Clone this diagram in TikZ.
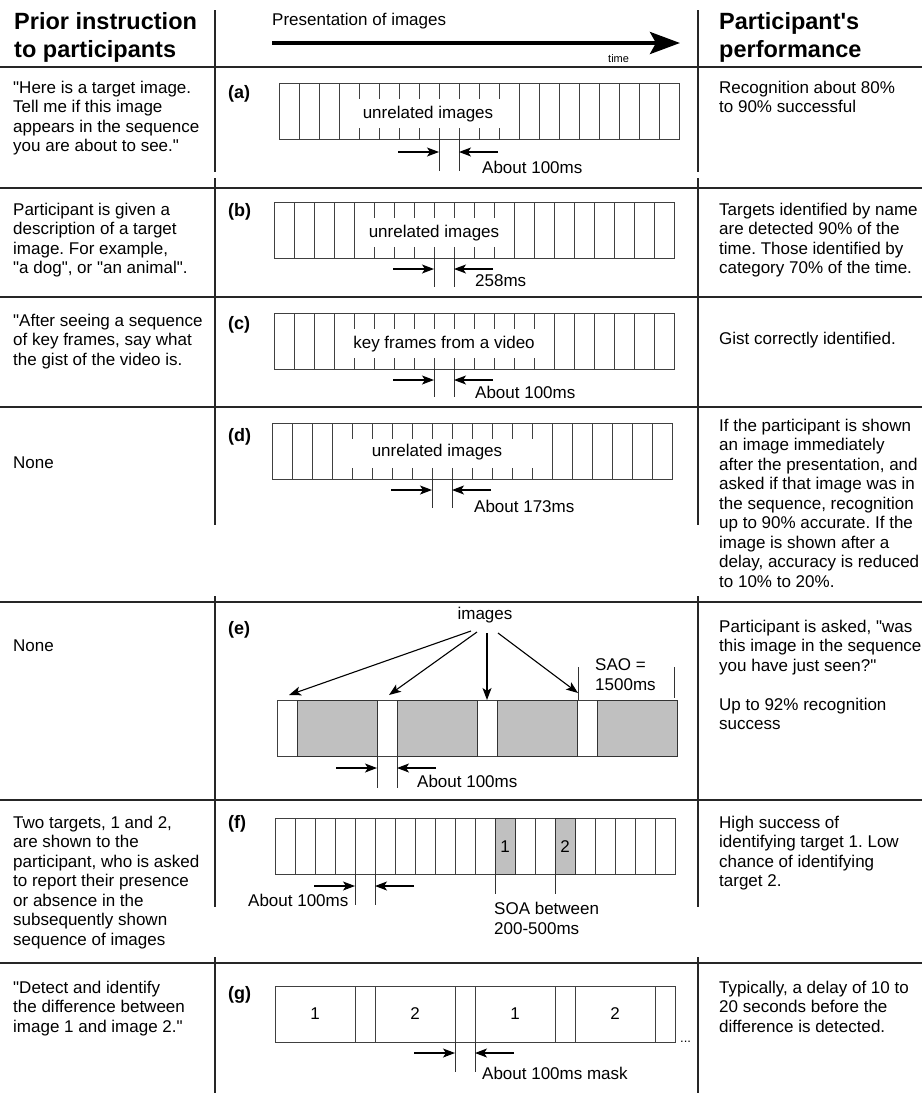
\documentclass[tikz,border=0pt]{standalone}
\usepackage{fontspec}
\setmainfont{Liberation Sans}
\newfontfamily\arial{Liberation Sans}
\usetikzlibrary{arrows.meta}
\definecolor{boxgrey}{HTML}{C0C0C0}
\frenchspacing
\newcommand{\bodyfont}{\arial\fontsize{17}{19.5}\selectfont}
\newcommand{\hdrfont}{\arial\fontsize{23.5}{28}\selectfont\bfseries}
\newcommand{\labfont}{\arial\fontsize{18}{20}\selectfont\bfseries}
\newcommand{\lines}[1]{\begin{tabular}[t]{@{}l@{}}#1\end{tabular}}
\newcommand{\rsvp}[5]{% x0, ytop, ybot, kfrom, kto
  \draw[cell] (#1,#2) rectangle (#1+400,#3);
  \foreach \k in {1,...,19}{%
    \ifnum\k<#4\relax
      \draw[cell] (#1+20*\k,#2) -- (#1+20*\k,#3);
    \else\ifnum\k>#5\relax
      \draw[cell] (#1+20*\k,#2) -- (#1+20*\k,#3);
    \else
      \draw[cell] (#1+20*\k,#2) -- (#1+20*\k,#2+16) (#1+20*\k,#3) -- (#1+20*\k,#3-11);
    \fi\fi
  }}
\newcommand{\timing}[6]{% name, xL, xR, ybot, yarr, yend
  \coordinate (#1L) at (#2,#5); \coordinate (#1R) at (#3,#5);
  \coordinate (#1Ls) at (#2-41,#5); \coordinate (#1Rs) at (#3+39,#5);
  \draw[tick] (#2,#4) -- (#2,#6) (#3,#4) -- (#3,#6);
  \draw[marr] (#1Ls) -- (#1L);
  \draw[marr] (#1Rs) -- (#1R);}
\begin{document}
\begin{tikzpicture}[x=1pt,y=-1pt,
  sep/.style={line width=1.8pt, draw=black!85},
  col/.style={line width=1.2pt, draw=black!85},
  cell/.style={line width=0.8pt, draw=black!75},
  tick/.style={line width=0.8pt, draw=black!80},
  greycell/.style={fill=boxgrey, draw=black!80, line width=1pt},
  marr/.style={line width=1.1pt, -{Stealth[length=12pt,width=9pt,inset=3pt]}},
  txt/.style={anchor=base west, inner sep=0pt, font=\bodyfont},
  ctxt/.style={anchor=base, inner sep=0pt, font=\bodyfont},
  lab/.style={anchor=base west, inner sep=0pt, font=\labfont},
  hdr/.style={anchor=base west, inner sep=0pt, font=\hdrfont}]
\useasboundingbox (0,0) rectangle (922,1095);
\fill[white] (0,0) rectangle (922,1095);

% grid lines
\foreach \y in {67,188,297,407,602,800,963} \draw[sep] (0,\y) -- (922,\y);
\foreach \x in {215,698}{
  \draw[col] (\x,10) -- (\x,172);
  \draw[col] (\x,178) -- (\x,525);
  \draw[col] (\x,596) -- (\x,907);
  \draw[col] (\x,957) -- (\x,1093);}

% header
\node[hdr] (h1) at (14,29) {\lines{Prior instruction\\to participants}};
\node[hdr] (h3) at (719,29) {\lines{Participant's\\performance}};
\node[txt] (pres) at (272,25) {Presentation of images};
\coordinate (ts) at (272,43); \coordinate (te) at (680,43);
\draw[line width=4pt, -{Stealth[length=30pt,width=22pt,inset=6pt]}] (ts) -- (te);
\node[anchor=base west, inner sep=0pt, font=\arial\fontsize{11}{12}\selectfont] (time) at (608,62) {time};

% row a
\node[txt] (la) at (13,93) {\lines{"Here is a target image.\\Tell me if this image\\appears in the sequence\\you are about to see."}};
\node[lab] (pa) at (228,98) {(a)};
\rsvp{279}{83}{139}{4}{11}
\node[ctxt] (ia) at (428,118) {unrelated images};
\timing{ma}{439}{459}{139}{152}{171}
\node[txt] (ta) at (482,173) {About 100ms};
\node[txt] (ra) at (719,93) {\lines{Recognition about 80\%\\to 90\% successful}};

% row b
\node[txt] (lb) at (13,215) {\lines{Participant is given a\\description of a target\\image. For example,\\"a dog", or "an animal".}};
\node[lab] (pb) at (228,216) {(b)};
\rsvp{274}{202}{258}{5}{11}
\node[ctxt] (ib) at (434,237) {unrelated images};
\timing{mb}{434}{454}{258}{269}{287}
\node[txt] (tb) at (475,286) {258ms};
\node[txt] (rb) at (719,215) {\lines{Targets identified by name\\are detected 90\% of the\\time. Those identified by\\category 70\% of the time.}};

% row c
\node[txt] (lc) at (13,326) {\lines{"After seeing a sequence\\of key frames, say what\\the gist of the video is.}};
\node[lab] (pc) at (228,329) {(c)};
\rsvp{274}{313}{369}{4}{13}
\node[ctxt] (ic) at (444,348) {key frames from a video};
\timing{mc}{434}{454}{369}{380}{397}
\node[txt] (tc) at (475,398) {About 100ms};
\node[txt] (rc) at (719,344) {Gist correctly identified.};

% row d
\node[txt] (ld) at (13,468) {None};
\node[lab] (pd) at (228,441) {(d)};
\rsvp{272}{423}{479}{4}{13}
\node[ctxt] (id) at (437,456) {unrelated images};
\timing{md}{432}{452}{479}{490}{508}
\node[txt] (td) at (474,512) {About 173ms};
\node[txt] (rd) at (719,431) {\lines{If the participant is shown\\an image immediately\\after the presentation, and\\asked if that image was in\\the sequence, recognition\\up to 90\% accurate. If the\\image is shown after a\\delay, accuracy is reduced\\to 10\% to 20\%.}};

% row e
\node[txt] (le) at (13,651) {None};
\node[lab] (pe) at (228,634) {(e)};
\draw[cell] (277,700) rectangle (677,756);
\foreach \x in {297,397,497,597} \draw[greycell] (\x,700) rectangle (\x+80,756);
\node[ctxt] (img) at (485,619) {images};
\coordinate (s1) at (471,631); \coordinate (e1) at (289,695);
\coordinate (s2) at (477,632); \coordinate (e2) at (389,695);
\coordinate (s3) at (487,633); \coordinate (e3) at (487,700);
\coordinate (s4) at (498,633); \coordinate (e4) at (578,693);
\draw[marr] (s1) -- (e1);
\draw[marr] (s2) -- (e2);
\draw[marr] (s3) -- (e3);
\draw[marr] (s4) -- (e4);
\draw[tick] (578,667) -- (578,700) (674,667) -- (674,698);
\node[anchor=base west, inner sep=0pt, font=\arial\fontsize{17}{20}\selectfont] (sao) at (595,670) {\lines{SAO =\\1500ms}};
\timing{me}{377}{397}{756}{768}{788}
\node[txt] (te1) at (417,787) {About 100ms};
\node[txt] (re) at (719,632) {\lines{Participant is asked, "was\\this image in the sequence\\you have just seen?"\\ \\Up to 92\% recognition\\success}};

% row f
\node[txt] (lf) at (13,828) {\lines{Two targets, 1 and 2,\\are shown to the\\participant, who is asked\\to report their presence\\or absence in the\\subsequently shown\\sequence of images}};
\node[lab] (pf) at (228,828) {(f)};
\rsvp{275}{818}{874}{20}{0}
\draw[greycell] (495,818) rectangle (515,874);
\draw[greycell] (555,818) rectangle (575,874);
\node[ctxt] (f1) at (505,852) {1};
\node[ctxt] (f2) at (565,852) {2};
\draw[tick] (495,874) -- (495,894) (555,874) -- (555,894);
\timing{mf}{355}{375}{874}{886}{905}
\node[txt] (tf) at (248,906) {About 100ms};
\node[anchor=base west, inner sep=0pt, font=\arial\fontsize{17}{20}\selectfont] (soa) at (494,914) {\lines{SOA between\\200-500ms}};
\node[txt] (rf) at (719,828) {\lines{High success of\\identifying target 1. Low\\chance of identifying\\target 2.}};

% row g
\node[txt] (lg) at (13,993) {\lines{"Detect and identify\\the difference between\\image 1 and image 2."}};
\node[lab] (pg) at (228,999) {(g)};
\draw[cell] (275,986) rectangle (675,1042);
\foreach \x in {355,375,455,475,555,575,655} \draw[cell] (\x,986) -- (\x,1042);
\node[ctxt] (g1) at (315,1019) {1};
\node[ctxt] (g2) at (415,1019) {2};
\node[ctxt] (g3) at (515,1019) {1};
\node[ctxt] (g4) at (615,1019) {2};
\node[anchor=base west, inner sep=0pt, font=\arial\fontsize{13}{14}\selectfont] (dots) at (680,1042) {...};
\timing{mg}{455}{475}{1042}{1053}{1072}
\node[txt] (tg) at (482,1079) {About 100ms mask};
\node[txt] (rg) at (719,993) {\lines{Typically, a delay of 10 to\\20 seconds before the\\difference is detected.}};
\end{tikzpicture}
\end{document}
